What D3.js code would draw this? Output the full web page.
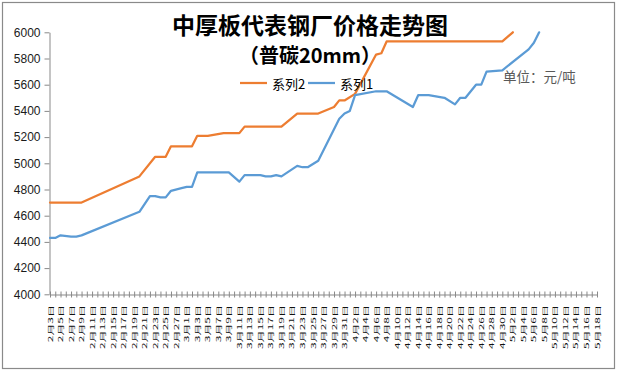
<!DOCTYPE html>
<html><head><meta charset="utf-8">
<script src="https://cdn.jsdelivr.net/npm/d3@7"></script>
<style>
html,body{margin:0;padding:0;background:#fff;}
svg{display:block;}
</style></head>
<body>
<svg id="c" width="619" height="376"></svg>
<script>
// ---- data ----
const titleText = "中厚板代表钢厂价格走势图";
const subtitleText = "（普碳20mm）";
const unitText = "单位：元/吨";
const seriesNames = ["系列2", "系列1"];
const yTicks = [4000, 4200, 4400, 4600, 4800, 5000, 5200, 5400, 5600, 5800, 6000];
const axisStart = "2018-02-03";
const axisEnd = "2018-05-18";

const series2Dates = ["02-03","02-09","02-20","02-23","02-25","02-26","03-02","03-03","03-05","03-08","03-11","03-12","03-19","03-22","03-26","03-29","03-30","03-31","04-02","04-06","04-07","04-08","04-30","05-02"];
const series2Values = [4700,4700,4900,5050,5050,5130,5130,5210,5210,5230,5230,5280,5280,5380,5380,5430,5480,5480,5530,5830,5840,5930,5930,6000];

const series1Dates = ["02-03","02-04","02-05","02-07","02-08","02-09","02-20","02-22","02-23","02-24","02-25","02-26","02-28","03-01","03-02","03-03","03-09","03-11","03-12","03-15","03-16","03-17","03-18","03-19","03-22","03-23","03-24","03-26","03-30","03-31","04-01","04-02","04-06","04-08","04-13","04-14","04-16","04-19","04-21","04-22","04-23","04-25","04-26","04-27","04-30","05-05","05-06","05-07"];
const series1Values = [4430,4430,4450,4440,4440,4450,4630,4750,4750,4740,4740,4790,4810,4820,4820,4930,4930,4860,4910,4910,4900,4900,4910,4900,4980,4970,4970,5020,5340,5380,5400,5520,5550,5550,5430,5520,5520,5500,5450,5500,5500,5600,5600,5700,5710,5870,5920,6000];

// ---- build ----
const parse = d3.timeParse("%Y-%m-%d");
const toDate = md => parse("2018-" + md);
const s2 = series2Dates.map((d,i)=>({date:toDate(d), value:series2Values[i]}));
const s1 = series1Dates.map((d,i)=>({date:toDate(d), value:series1Values[i]}));

const svg = d3.select("#c");
const orange = "#ED7D31", blue = "#5B9BD5", axisColor = "#898989";

svg.append("rect").attr("x",2.5).attr("y",2.5).attr("width",612).attr("height",366)
  .attr("fill","#fff").attr("stroke","#8a8a8a").attr("stroke-width",1.2);

const x = d3.scaleTime().domain([parse(axisStart), parse(axisEnd)]).range([50, 597]);
const y = d3.scaleLinear().domain([4000, 6000]).range([294.3, 32.3]);

// y axis
const gy = svg.append("g").attr("transform","translate(49.5,0)")
  .call(d3.axisLeft(y).tickValues(yTicks).tickSizeInner(5).tickSizeOuter(0).tickPadding(4).tickFormat(d3.format("d")));
gy.select(".domain").attr("stroke",axisColor);
gy.selectAll(".tick line").attr("stroke",axisColor);
gy.selectAll(".tick text").attr("fill","#1a1a1a").style("font-family","'Liberation Sans', Arial, sans-serif").style("font-size","12px");

// x axis (daily crossing ticks)
const dayTicks = d3.timeDay.range(parse(axisStart), d3.timeDay.offset(parse(axisEnd),1));
const gx = svg.append("g").attr("transform","translate(0,294.5)")
  .call(d3.axisBottom(x).tickValues(dayTicks).tickFormat("").tickSizeOuter(0));
gx.select(".domain").attr("stroke",axisColor);
gx.selectAll(".tick line").attr("stroke",axisColor).attr("y1",-3).attr("y2",3);

// x labels every 2 days
const labelDates = d3.timeDay.range(parse(axisStart), d3.timeDay.offset(parse(axisEnd),1), 2);
const fmt = d => (d.getMonth()+1) + "月" + d.getDate() + "日";
svg.append("g").selectAll("text").data(labelDates).join("text")
  .attr("transform", d => `translate(${x(d)},305) rotate(-90) scale(1,0.5)`)
  .attr("text-anchor","end").attr("dominant-baseline","central")
  .style("font-family","'Noto Sans CJK SC', sans-serif").style("font-size","12px")
  .attr("fill","#111").text(fmt);

// lines
const line = d3.line().x(d=>x(d.date)).y(d=>y(d.value));
svg.append("path").datum(s2).attr("d",line).attr("fill","none").attr("stroke",orange)
  .attr("stroke-width",2.25).attr("stroke-linejoin","round").attr("stroke-linecap","round");
svg.append("path").datum(s1).attr("d",line).attr("fill","none").attr("stroke",blue)
  .attr("stroke-width",2.25).attr("stroke-linejoin","round").attr("stroke-linecap","round");

// titles
svg.append("text").attr("x",310).attr("y",33.5).attr("text-anchor","middle")
  .style("font-family","'Noto Sans CJK SC', sans-serif").style("font-size","23px").style("font-weight","700")
  .attr("fill","#000").text(titleText);
svg.append("text").attr("x",310).attr("y",63).attr("text-anchor","middle")
  .style("font-family","'Noto Sans CJK SC', sans-serif").style("font-size","20px").style("font-weight","700")
  .attr("fill","#000").text(subtitleText);

// legend
const legend = [{name:seriesNames[0], color:orange, x:240},{name:seriesNames[1], color:blue, x:308}];
const lg = svg.append("g");
legend.forEach(l=>{
  lg.append("line").attr("x1",l.x).attr("x2",l.x+27).attr("y1",83).attr("y2",83)
    .attr("stroke",l.color).attr("stroke-width",2.25);
  lg.append("text").attr("x",l.x+32).attr("y",83).attr("dominant-baseline","central")
    .style("font-family","'Noto Sans CJK SC', sans-serif").style("font-size","13px")
    .attr("fill","#000").text(l.name);
});

// unit
svg.append("text").attr("x",503).attr("y",76).attr("dominant-baseline","central")
  .style("font-family","'Noto Sans CJK SC', sans-serif").style("font-size","13.5px")
  .attr("fill","#595959").text(unitText);
</script>
</body></html>
